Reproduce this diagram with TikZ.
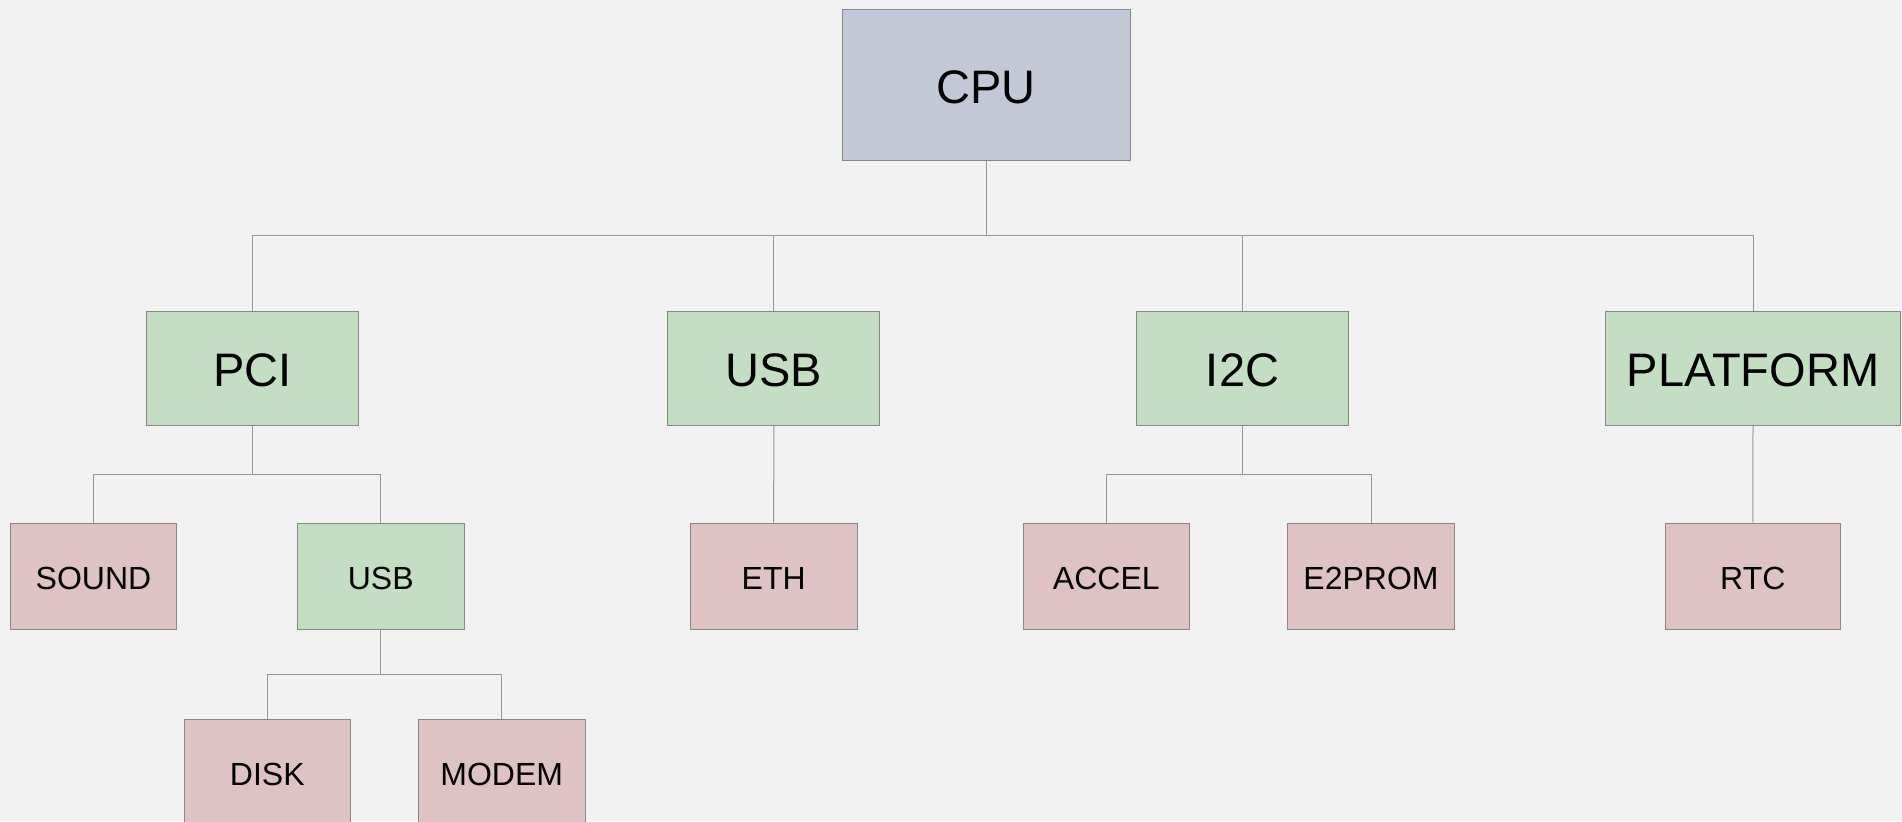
\documentclass[tikz,border=0pt]{standalone}
\usepackage{fontspec}
\setmainfont{Liberation Sans}
\definecolor{bgcol}{RGB}{242,242,242}
\definecolor{cpucol}{RGB}{194,200,213}
\definecolor{buscol}{RGB}{195,222,195}
\definecolor{devcol}{RGB}{222,194,196}
\definecolor{edgecol}{RGB}{136,136,136}
\definecolor{wirecol}{RGB}{150,150,150}
\tikzset{
  box/.style={draw=edgecol, line width=0.5pt, inner sep=0pt, text=black, text depth=0pt},
  bigtext/.style={font=\fontsize{23.5}{28}\selectfont, text height=18.4pt},
  smalltext/.style={font=\fontsize{16}{19}\selectfont, text height=13pt},
  cpubox/.style={box, bigtext, fill=cpucol, minimum width=144pt, minimum height=75.5pt},
  busbox/.style={box, bigtext, fill=buscol, minimum width=106pt, minimum height=57pt},
  subbusbox/.style={box, smalltext, fill=buscol, minimum width=83.3pt, minimum height=53pt},
  devbox/.style={box, smalltext, fill=devcol, minimum width=83.3pt, minimum height=53pt},
  wire/.style={draw=wirecol, line width=0.5pt}
}
\begin{document}
\begin{tikzpicture}[x=0.5pt, y=-0.5pt]
  \useasboundingbox[fill=bgcol] (0,0) rectangle (1902,821);

  % root
  \node[cpubox] (cpu) at (986,85) {CPU};

  % buses
  \node[busbox] (pci) at (252.3,368) {PCI};
  \node[busbox] (usb) at (773.8,368) {USB};
  \node[busbox] (i2c) at (1242.5,368) {I2C};
  \node[busbox, minimum width=147.7pt] (plat) at (1753,368) {PLATFORM};

  % devices
  \node[devbox] (sound) at (93.5,576.3) {SOUND};
  \node[subbusbox] (usbsub) at (380.7,576.3) {USB};
  \node[devbox] (eth) at (773.7,576.2) {ETH};
  \node[devbox] (accel) at (1106.3,576.2) {ACCEL};
  \node[devbox] (eprom) at (1371,576.2) {E2PROM};
  \node[devbox, minimum width=87.2pt] (rtc) at (1752.8,576.2) {RTC};
  \node[devbox] (disk) at (267.3,772.7) {DISK};
  \node[devbox] (modem) at (501.7,772.7) {MODEM};

  % junction points
  \coordinate (cpuj) at (986,235.7);
  \coordinate (pcij) at (252.3,474.3);
  \coordinate (i2cj) at (1242.5,474.3);
  \coordinate (usbj) at (380.7,674.3);

  % CPU to buses
  \draw[wire] (cpu.south) -- (cpuj) -| (pci.north);
  \draw[wire] (cpuj) -| (usb.north);
  \draw[wire] (cpuj) -| (i2c.north);
  \draw[wire] (i2c.north) |- (plat.north |- cpuj) -- (plat.north);

  % PCI children
  \draw[wire] (pci.south) -- (pcij) -| (sound.north);
  \draw[wire] (pcij) -| (usbsub.north);

  % USB children
  \draw[wire] (usb.south) -- (eth.north);

  % I2C children
  \draw[wire] (i2c.south) -- (i2cj) -| (accel.north);
  \draw[wire] (i2cj) -| (eprom.north);

  % PLATFORM children
  \draw[wire] (plat.south) -- (rtc.north);

  % PCI/USB children
  \draw[wire] (usbsub.south) -- (usbj) -| (disk.north);
  \draw[wire] (usbj) -| (modem.north);
\end{tikzpicture}
\end{document}
